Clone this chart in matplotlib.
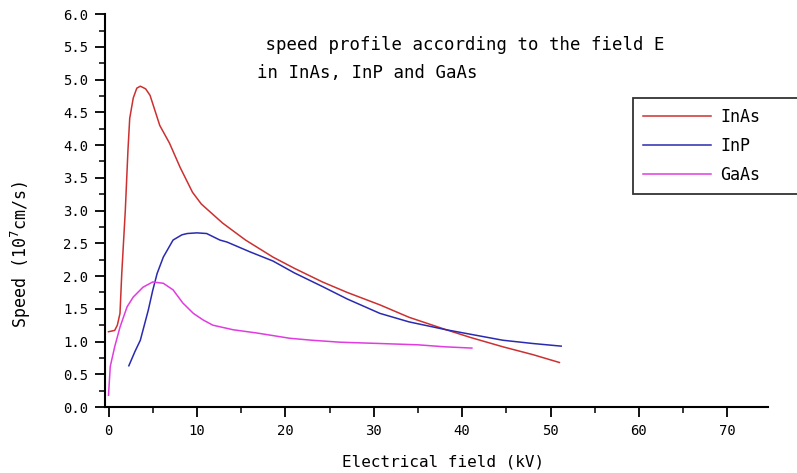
import matplotlib
matplotlib.use("Agg")
import matplotlib.pyplot as plt
from matplotlib.ticker import MultipleLocator, FormatStrFormatter

# InAs
inas_x = [0, 0.7, 1.0, 1.3, 1.5, 1.9, 2.2, 2.4, 2.8, 3.2, 3.6, 4.2, 4.7, 5.8, 6.9, 8.1,
          9.5, 10.5, 12.9, 15.5, 18.6, 21, 24.2, 27, 30.7, 34, 38.2, 41, 44.6, 48, 51]
inas_y = [1.15, 1.17, 1.25, 1.43, 2.04, 3.0, 3.92, 4.41, 4.72, 4.87, 4.9, 4.86, 4.76, 4.3,
          4.03, 3.66, 3.28, 3.1, 2.81, 2.55, 2.29, 2.12, 1.91, 1.75, 1.56, 1.37, 1.18, 1.06,
          0.92, 0.8, 0.68]

# InP
inp_x = [2.3, 3.0, 3.6, 4.5, 5.0, 5.5, 6.2, 7.3, 8.3, 8.9, 10.0, 11.1, 12.6, 13.4, 16,
         18.6, 21, 24.2, 27, 30.7, 34, 38.2, 41, 44.6, 48, 51.2]
inp_y = [0.63, 0.85, 1.02, 1.48, 1.78, 2.04, 2.29, 2.55, 2.63, 2.65, 2.66, 2.65, 2.55, 2.52,
         2.37, 2.23, 2.05, 1.84, 1.65, 1.43, 1.3, 1.18, 1.11, 1.02, 0.97, 0.93]

# GaAs
gaas_x = [0, 0.2, 0.7, 1.3, 2.1, 2.8, 3.9, 5.0, 6.2, 7.3, 8.4, 9.6, 10.7, 11.8, 14.1,
          16.8, 20.5, 23, 26.2, 30.7, 35, 38, 41.1]
gaas_y = [0.18, 0.62, 0.92, 1.22, 1.53, 1.68, 1.83, 1.91, 1.89, 1.79, 1.59, 1.43, 1.33,
          1.25, 1.18, 1.13, 1.05, 1.02, 0.99, 0.97, 0.95, 0.92, 0.9]

x_ticks = [0, 10, 20, 30, 40, 50, 60, 70]
x_labels = ['0', '10', '20', '30', '40', '50', '60', '70']

# wide, evenly spaced lettering like the original
plt.rcParams['font.family'] = ['DejaVu Sans Mono', 'DejaVu Sans']

fig = plt.figure(figsize=(7.97, 4.73), dpi=100)
ax = fig.add_axes([0.1317, 0.1395, 0.832, 0.8305])

ax.plot(inas_x, inas_y, color='#cc3030', lw=1.1, label='InAs')
ax.plot(inp_x, inp_y, color='#2a2ab0', lw=1.1, label='InP')
ax.plot(gaas_x, gaas_y, color='#e03ce0', lw=1.1, label='GaAs')

ax.set_xlim(-0.4, 74.6)
ax.set_ylim(0, 6.0)
ax.set_xticks(x_ticks)
ax.set_xticklabels(x_labels)
ax.xaxis.set_minor_locator(MultipleLocator(5))
ax.yaxis.set_major_locator(MultipleLocator(0.5))
ax.yaxis.set_minor_locator(MultipleLocator(0.25))
ax.yaxis.set_major_formatter(FormatStrFormatter('%.1f'))
ax.tick_params(which='major', direction='out', length=7, width=1.3, labelsize=10, pad=5)
ax.tick_params(which='minor', direction='out', length=4, width=1.1)

for s in ['top', 'right']:
    ax.spines[s].set_visible(False)
for s in ['left', 'bottom']:
    ax.spines[s].set_linewidth(1.5)

ax.set_ylabel('Speed (10$^7$cm/s)', fontsize=12)
ax.yaxis.set_label_coords(-0.108, 0.387)
ax.set_xlabel('Electrical field (kV)', fontsize=11.5)
ax.xaxis.set_label_coords(0.51, -0.12)

ax.text(0.226, 0.921, ' speed profile according to the field E', transform=ax.transAxes,
        fontsize=12.5, va='center')
ax.text(0.229, 0.850, 'in InAs, InP and GaAs', transform=ax.transAxes, fontsize=12.5,
        va='center')

leg = ax.legend(loc='upper left', bbox_to_anchor=(0.796, 0.536, 0.27, 0.25),
                mode='expand', fontsize=12, frameon=True, fancybox=False,
                edgecolor='black', handlelength=4.1, handletextpad=0.55,
                borderpad=0.6, labelspacing=0.65, borderaxespad=0)
leg.get_frame().set_linewidth(1.3)

fig.savefig('out.png', dpi=100)
